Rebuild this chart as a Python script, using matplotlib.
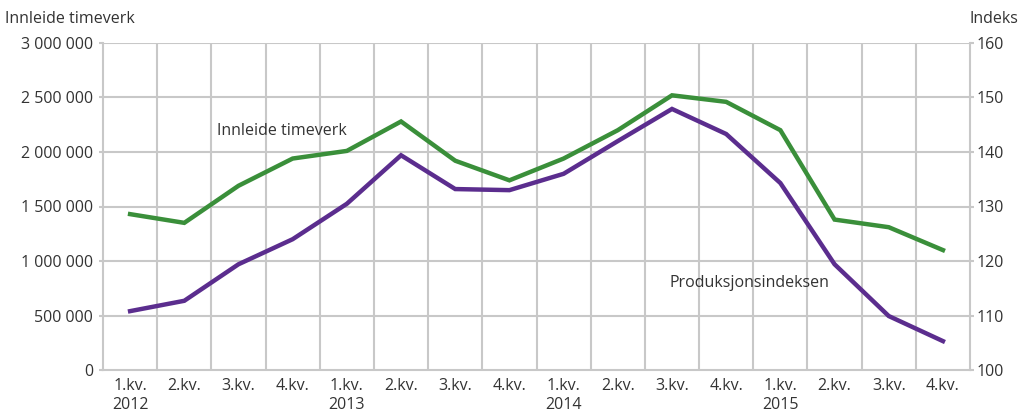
import matplotlib.pyplot as plt
import numpy as np

plt.rcParams['font.family'] = ['Open Sans', 'DejaVu Sans']

quarters = ['1.kv.', '2.kv.', '3.kv.', '4.kv.'] * 4
years = ['2012', '', '', '', '2013', '', '', '', '2014', '', '', '', '2015', '', '', '']

# Innleide timeverk (left axis)
timeverk = [1430000, 1350000, 1690000, 1940000, 2010000, 2280000, 1920000, 1740000,
            1940000, 2200000, 2520000, 2460000, 2200000, 1380000, 1310000, 1100000]
# Produksjonsindeksen (right axis)
indeks = [110.8, 112.7, 119.4, 124.0, 130.5, 139.4, 133.2, 133.0,
          136.0, 142.0, 147.9, 143.3, 134.3, 119.4, 109.9, 105.3]

green = '#3a8f3a'
purple = '#5b2d8e'
grid_c = '#c8c8c8'
text_c = '#333333'
fs = 11.5

fig = plt.figure(figsize=(10.29, 4.13), dpi=100)
ax = fig.add_axes([0.1001, 0.1041, 0.8426, 0.7918])
ax2 = ax.twinx()

n = len(timeverk)
x = np.arange(n)

ax.set_xlim(-0.5, n - 0.5)
ax.set_ylim(0, 3000000)
ax2.set_ylim(100, 160)

left_ticks = list(range(0, 3000001, 500000))
ax.set_yticks(left_ticks)
ax.set_yticklabels(['{:,}'.format(v).replace(',', ' ') for v in left_ticks])
ax2.set_yticks(np.arange(100, 161, 10))

# grid
for yv in left_ticks[1:]:
    ax.axhline(yv, color=grid_c, lw=1.5, zorder=0)
for xb in np.arange(0.5, n - 0.5, 1):
    ax.axvline(xb, color=grid_c, lw=1.5, zorder=0)

for a in (ax, ax2):
    for s in a.spines.values():
        s.set_visible(False)
for a, side in ((ax, 'left'), (ax, 'bottom'), (ax2, 'right')):
    a.spines[side].set_visible(True)
    a.spines[side].set_color(grid_c)
    a.spines[side].set_linewidth(1.5)

ax.tick_params(axis='y', length=3, color=grid_c, width=1.5, labelsize=fs, labelcolor=text_c, pad=4)
ax2.tick_params(axis='y', length=3, color=grid_c, width=1.5, labelsize=fs, labelcolor=text_c, pad=2)

ax.set_xticks(x)
ax.set_xticklabels([q + '\n' + y for q, y in zip(quarters, years)], fontsize=fs, color=text_c,
                   linespacing=1.2, va='top')
ax.tick_params(axis='x', length=0, pad=6)

ax.plot(x, timeverk, color=green, lw=3.2, solid_joinstyle='miter', zorder=3)
ax2.plot(x, indeks, color=purple, lw=3.2, solid_joinstyle='miter', zorder=3)

ax.text(1.6, 2190000, 'Innleide timeverk', fontsize=fs, color=text_c, va='center')
ax2.text(9.96, 116.0, 'Produksjonsindeksen', fontsize=fs, color=text_c, va='center')

fig.text(0.005, 0.955, 'Innleide timeverk', fontsize=fs, color=text_c, va='center')
fig.text(0.99, 0.955, 'Indeks', fontsize=fs, color=text_c, ha='right', va='center')

fig.savefig('out.png', dpi=100)
